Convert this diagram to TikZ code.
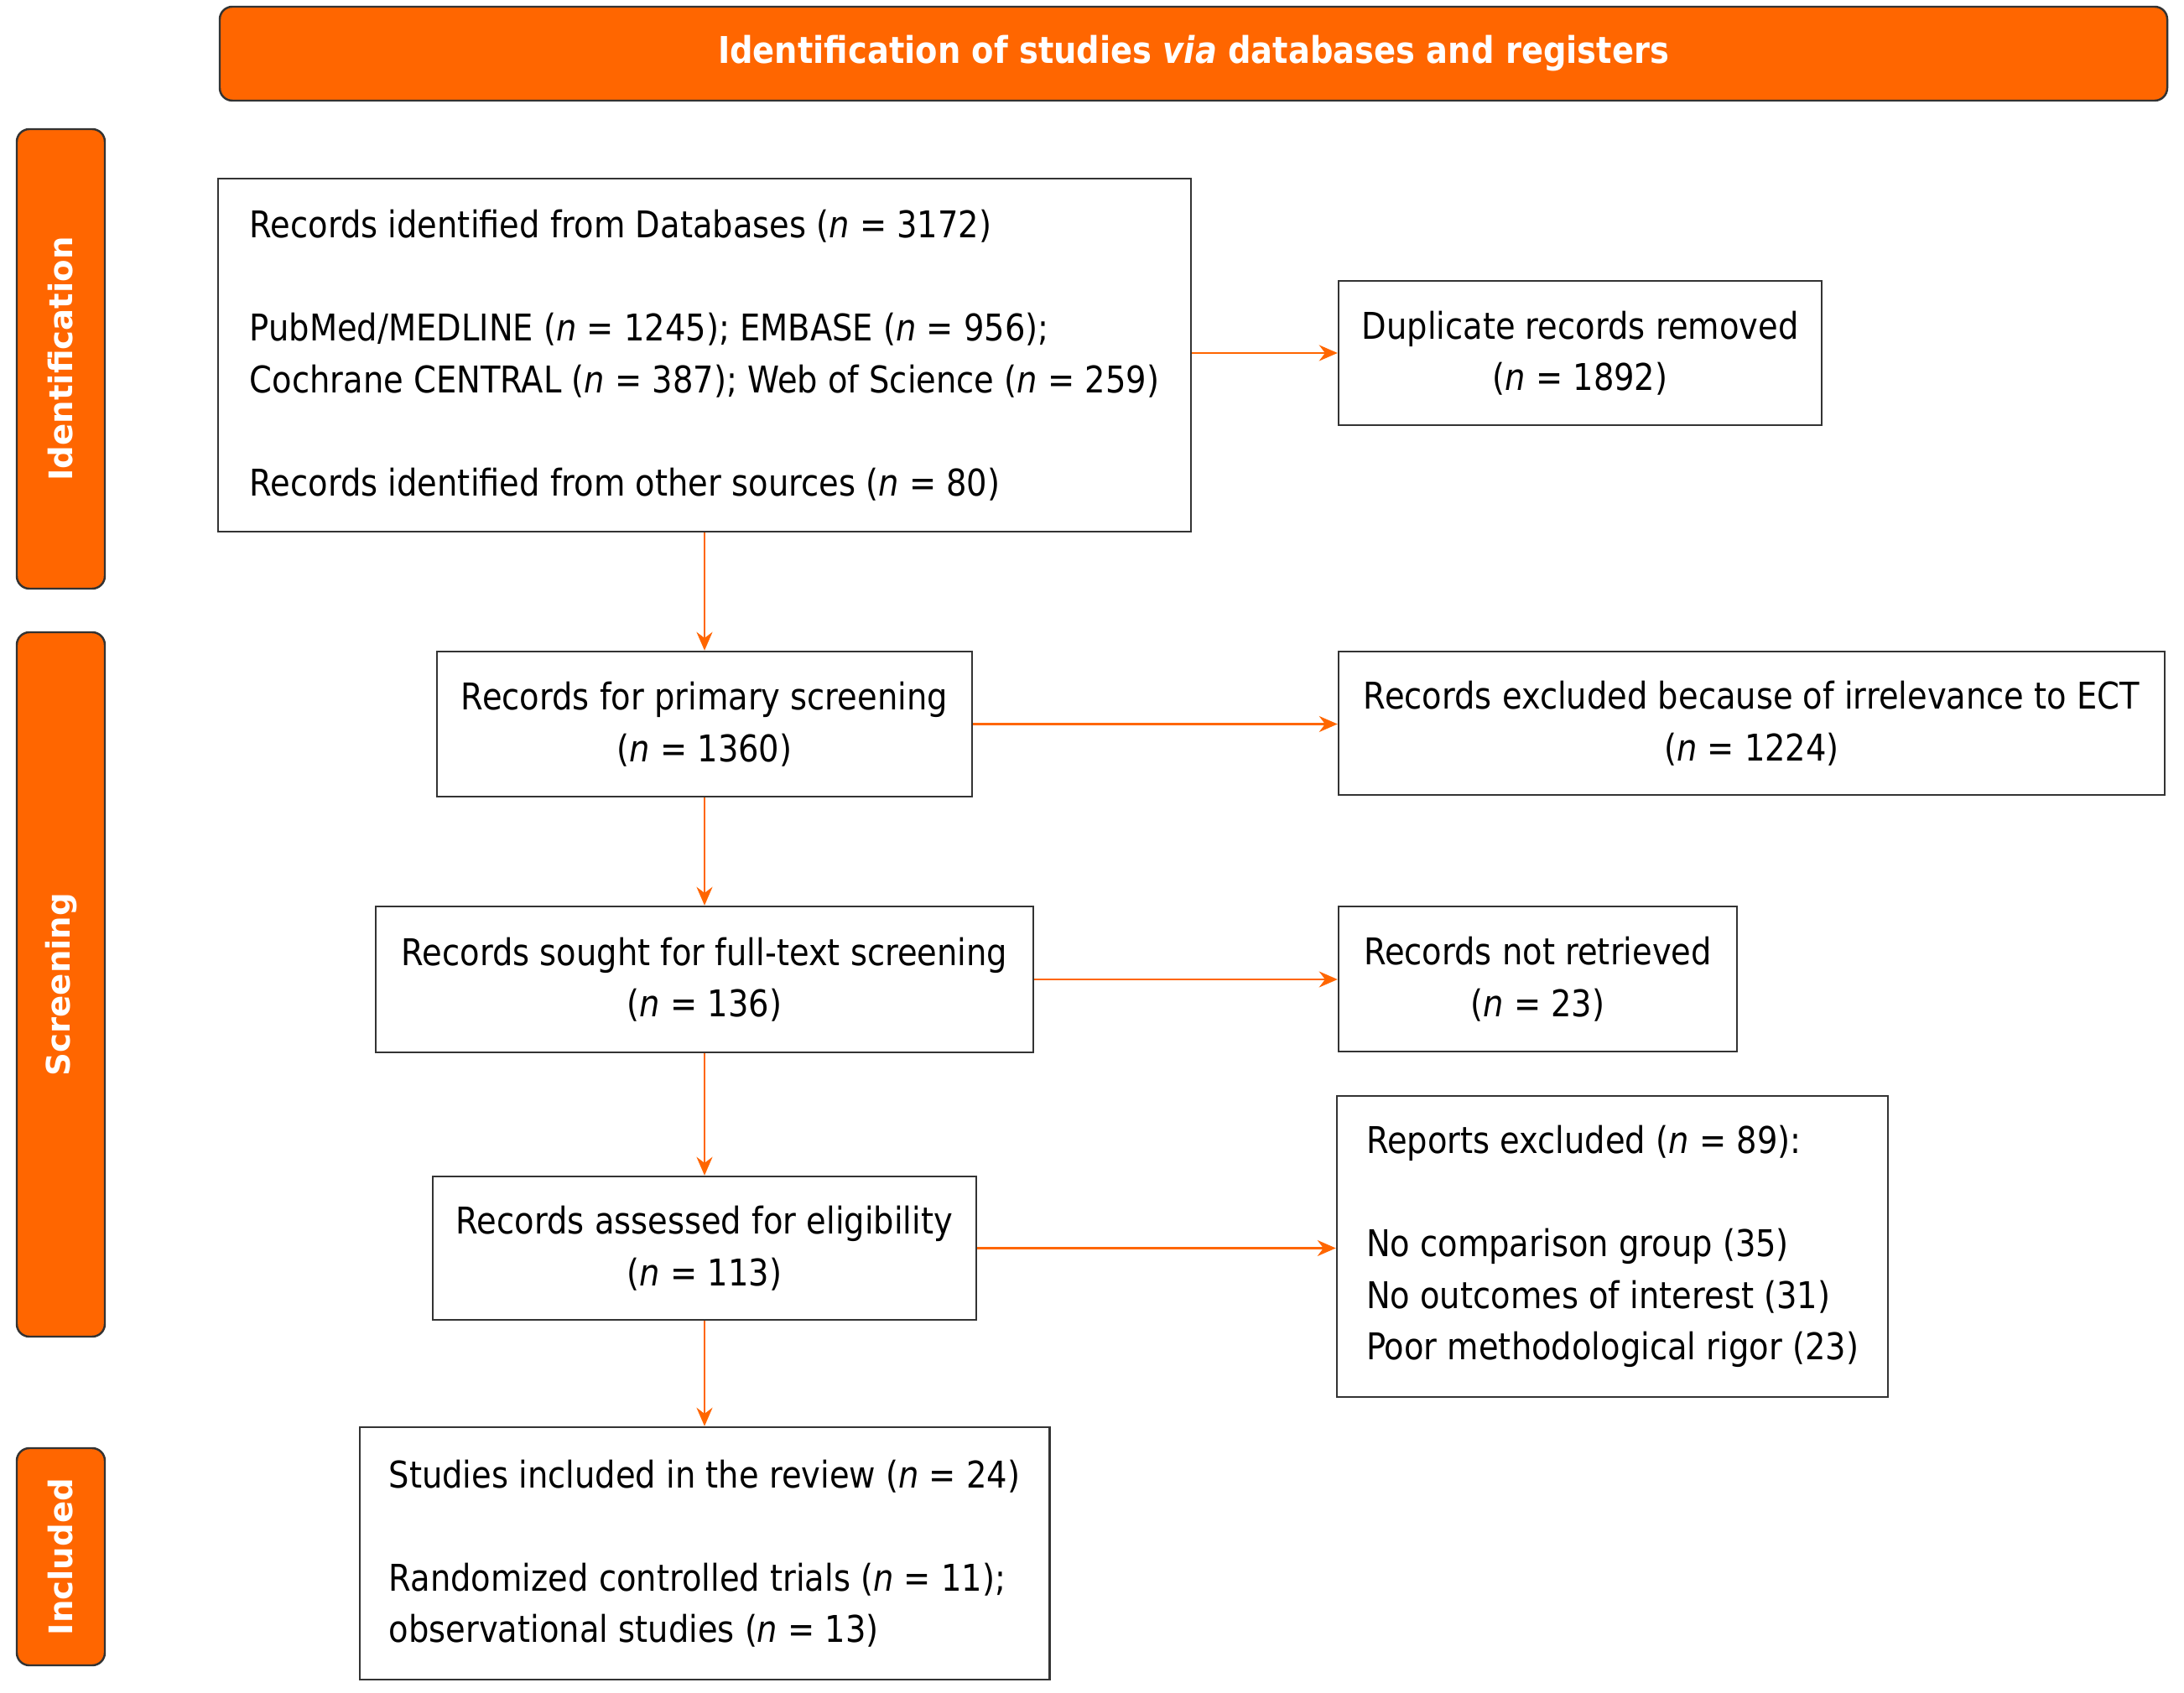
\documentclass[tikz,border=0pt]{standalone}
\usepackage{fontspec}
\setmainfont{DejaVu Sans}[FakeStretch=0.875]
\newfontfamily\stagefont{DejaVu Sans}
\usepackage{tikz}
\usetikzlibrary{arrows.meta,positioning}
\definecolor{prismaorange}{HTML}{FF6600}
\definecolor{boxline}{HTML}{333333}

\begin{document}
\begin{tikzpicture}[
  box/.style={rectangle, draw=boxline, line width=0.7pt, fill=white, font=\fontsize{12.5}{17.5}\selectfont, inner xsep=0.35cm, inner ysep=0.2cm},
  cbox/.style={box, align=center, inner xsep=0.1cm},
  lbox/.style={box, align=left},
  headbar/.style={rectangle, rounded corners=0.15cm, draw=boxline, line width=0.7pt, fill=prismaorange, text=white, font=\bfseries\fontsize{12.5}{15}\selectfont},
  stage/.style={rectangle, rounded corners=0.15cm, draw=boxline, line width=0.7pt, fill=prismaorange, text=white, minimum height=1.05cm, rotate=90, font=\stagefont\bfseries\fontsize{11}{14}\selectfont},
  flow/.style={draw=prismaorange, line width=0.6pt, -{Stealth[length=0.22cm, width=0.19cm]}}
]
  \useasboundingbox (0,0) rectangle (26.04,-20.19);

  % title and stages
  \node[headbar, minimum width=23.22cm, minimum height=1.12cm] (title) at (14.23,-0.64) {Identification of studies \textit{via} databases and registers};
  \node[stage, minimum width=5.48cm] (idstage) at (0.725,-4.28) {Identification};
  \node[stage, minimum width=8.40cm] (scrstage) at (0.725,-11.74) {Screening};
  \node[stage, minimum width=2.59cm] (incstage) at (0.725,-18.565) {Included};

  % main column
  \node[lbox, minimum width=11.60cm, minimum height=4.21cm] (records) at (8.40,-4.235)
    {Records identified from Databases (\textit{n} = 3172)\\[17.5pt]
     PubMed/MEDLINE (\textit{n} = 1245); EMBASE (\textit{n} = 956);\\
     Cochrane CENTRAL (\textit{n} = 387); Web of Science (\textit{n} = 259)\\[17.5pt]
     Records identified from other sources (\textit{n} = 80)};
  \node[cbox, minimum width=6.38cm, minimum height=1.73cm] (primary) at (8.40,-8.635)
    {Records for primary screening\\(\textit{n} = 1360)};
  \node[cbox, minimum width=7.84cm, minimum height=1.74cm] (sought) at (8.40,-11.68)
    {Records sought for full-text screening\\(\textit{n} = 136)};
  \node[cbox, minimum width=6.48cm, minimum height=1.71cm] (assessed) at (8.40,-14.885)
    {Records assessed for eligibility\\(\textit{n} = 113)};
  \node[lbox, minimum width=8.18cm, minimum height=3.01cm] (included) at (8.40,-18.525)
    {Studies included in the review (\textit{n} = 24)\\[17.5pt]
     Randomized controlled trials (\textit{n} = 11);\\
     observational studies (\textit{n} = 13)};

  % side column
  \node[cbox, minimum width=5.76cm, minimum height=1.72cm] (duplicates) at (18.84,-4.21)
    {Duplicate records removed\\(\textit{n} = 1892)};
  \node[cbox, minimum width=9.85cm, minimum height=1.71cm] (irrelevant) at (20.885,-8.625)
    {Records excluded because of irrelevance to ECT\\(\textit{n} = 1224)};
  \node[cbox, minimum width=4.75cm, minimum height=1.73cm] (notretrieved) at (18.335,-11.675)
    {Records not retrieved\\(\textit{n} = 23)};
  \node[lbox, minimum width=6.53cm, minimum height=3.59cm] (reports) at (19.225,-14.865)
    {Reports excluded (\textit{n} = 89):\\[17.5pt]
     No comparison group (35)\\
     No outcomes of interest (31)\\
     Poor methodological rigor (23)};

  % arrows
  \draw[flow] (records) -- (primary);
  \draw[flow] (primary) -- (sought);
  \draw[flow] (sought) -- (assessed);
  \draw[flow] (assessed) -- (included);
  \draw[flow] (records.east |- duplicates.west) -- (duplicates.west);
  \draw[flow] (primary.east) -- (primary.east -| irrelevant.west);
  \draw[flow] (sought.east) -- (sought.east -| notretrieved.west);
  \draw[flow] (assessed.east) -- (assessed.east -| reports.west);
\end{tikzpicture}
\end{document}
